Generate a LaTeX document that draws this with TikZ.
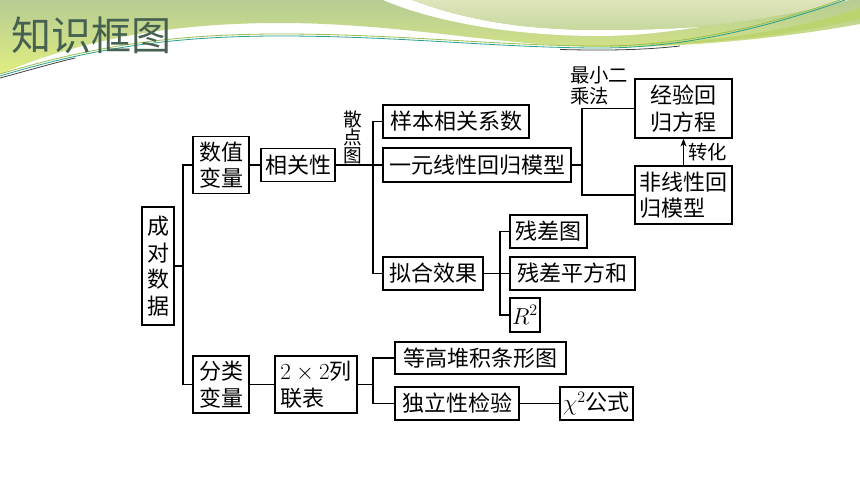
\documentclass[tikz,border=0pt]{standalone}
\usepackage{fontspec}
\newfontfamily\cjk{Noto Sans CJK SC}
\usetikzlibrary{arrows.meta}
\definecolor{hgA}{RGB}{182,204,148}
\definecolor{hgB}{RGB}{224,237,128}
\definecolor{hgC}{RGB}{224,228,188}
\definecolor{hgD}{RGB}{198,216,158}
\definecolor{hgE}{RGB}{188,212,112}
\definecolor{titlec}{RGB}{70,96,82}
\definecolor{tealc}{RGB}{40,160,140}
\definecolor{lgreen}{RGB}{150,190,80}
\begin{document}
\begin{tikzpicture}[x=0.75pt,y=-0.75pt,
  bx/.style={draw, line width=0.9pt, inner sep=0pt, align=left,
    font={\cjk\fontsize{16.5}{20}\selectfont}},
  sz/.style 2 args={minimum width=#1*0.75pt, minimum height=#2*0.75pt},
  ln/.style={line width=0.8pt},
  lbl/.style={inner sep=0pt, align=left, font={\cjk\fontsize{14.5}{16}\selectfont}}]
\useasboundingbox (0,0) rectangle (860,484);
\fill[white] (0,0) rectangle (860,484);
% header decoration
\shade[top color=hgA, bottom color=hgB] (0,0) -- (860,0) -- (860,24)
  .. controls (800,35) and (700,48) .. (600,47)
  .. controls (500,46) and (400,23) .. (280,23)
  .. controls (170,23) and (80,40) .. (0,74) -- cycle;
\fill[hgE] (650,44) .. controls (740,40) and (810,25) .. (860,8) -- (860,19)
  .. controls (800,33) and (730,43) .. (650,45) -- cycle;
\fill[white] (383,0) -- (412,0) .. controls (470,22) and (530,30) .. (600,30)
  .. controls (640,30) and (670,29) .. (700,27)
  .. controls (660,33) and (630,36) .. (600,36)
  .. controls (520,36) and (440,24) .. (383,0) -- cycle;
\shade[top color=hgC, bottom color=hgD] (412,0) -- (850,0)
  .. controls (740,28) and (660,30) .. (600,30)
  .. controls (530,30) and (470,22) .. (412,0) -- cycle;
\draw[line width=0.6pt, lgreen] (0,74) .. controls (90,47) and (170,34) .. (280,34)
  .. controls (400,34) and (500,46) .. (600,46) .. controls (680,46) and (760,28) .. (840,0);
\draw[line width=0.6pt, tealc] (0,76) .. controls (90,49) and (170,36) .. (280,36)
  .. controls (400,36) and (500,48) .. (600,48) .. controls (680,48) and (760,30) .. (845,0);
\draw[line width=0.6pt, black!75] (0,78) .. controls (30,70) and (50,64) .. (75,58);
\draw[line width=0.6pt, black!75] (560,49.5) .. controls (600,50.5) and (640,50.5) .. (680,46);
\node[anchor=west, inner sep=0pt, text=titlec, font={\cjk\fontsize{30}{30}\selectfont}] (title) at (11,35) {知识框图};
% boxes
\node[bx, sz={32}{118}, align=center] (cd) at (158,266) {成\\对\\数\\据};
\node[bx, sz={56}{57}] (szl) at (221,165) {数值\\变量};
\node[bx, sz={56}{57}] (fl) at (221,384.5) {分类\\变量};
\node[bx, sz={74}{33}] (xg) at (298,165) {相关性};
\node[bx, sz={146}{33}] (yb) at (456,121.5) {样本相关系数};
\node[bx, sz={188}{34}] (yy) at (477,165) {一元线性回归模型};
\node[bx, sz={100}{33}] (nh) at (433,273.5) {拟合效果};
\node[bx, sz={97}{59}, align=center] (jy) at (683.5,108.5) {经验回\\归方程};
\node[bx, sz={97}{58}] (fx) at (683.5,195) {非线性回\\归模型};
\node[bx, sz={77}{33}] (cct) at (548.5,231.5) {残差图};
\node[bx, sz={125}{33}] (ccp) at (572.5,273.5) {残差平方和};
\node[bx, sz={30}{34}] (r2) at (525,315) {$R^2$};
\node[bx, sz={82}{57}] (lb) at (316,384.5) {$2\times2$列\\联表};
\node[bx, sz={171}{32}] (dg) at (480.5,358) {等高堆积条形图};
\node[bx, sz={124}{33}] (dl) at (457,403.5) {独立性检验};
\node[bx, sz={73}{33}] (chi) at (596.5,403.5) {$\chi^2$公式};
% labels
\node[lbl, align=center, font={\cjk\fontsize{14}{13.5}\selectfont}] (sdt) at (353,137) {散\\点\\图};
\node[lbl, anchor=west] (zx) at (570,86) {最小二\\乘法};
\node[lbl, anchor=west] (zh) at (688,152) {转化};
% junction coordinates
\coordinate (t1) at (183,266);
\coordinate (t2) at (373,165);
\coordinate (t3) at (582,165);
\coordinate (t4) at (500,273.5);
\coordinate (t5) at (373,384.5);
% connectors
\draw[ln] (szl.west) -| (t1) |- (fl.west);
\draw[ln] (cd.east) -- (t1);
\draw[ln] (szl.east) -- (xg.west);
\draw[ln] (xg.east) -- (yy.west);
\draw[ln] (yb.west) -| (t2) |- (nh.west);
\draw[ln] (yy.east) -- (t3);
\draw[ln] (jy.west) -| (t3) |- (fx.west);
\draw[ln, -{Stealth[length=6pt,width=4.5pt]}] (fx.north) -- (jy.south);
\draw[ln] (nh.east) -- (ccp.west);
\draw[ln] (cct.west) -| (t4) |- (r2.west);
\draw[ln] (fl.east) -- (lb.west);
\draw[ln] (lb.east) -- (t5);
\draw[ln] (dg.west) -| (t5) |- (dl.west);
\draw[ln] (dl.east) -- (chi.west);
\end{tikzpicture}
\end{document}
